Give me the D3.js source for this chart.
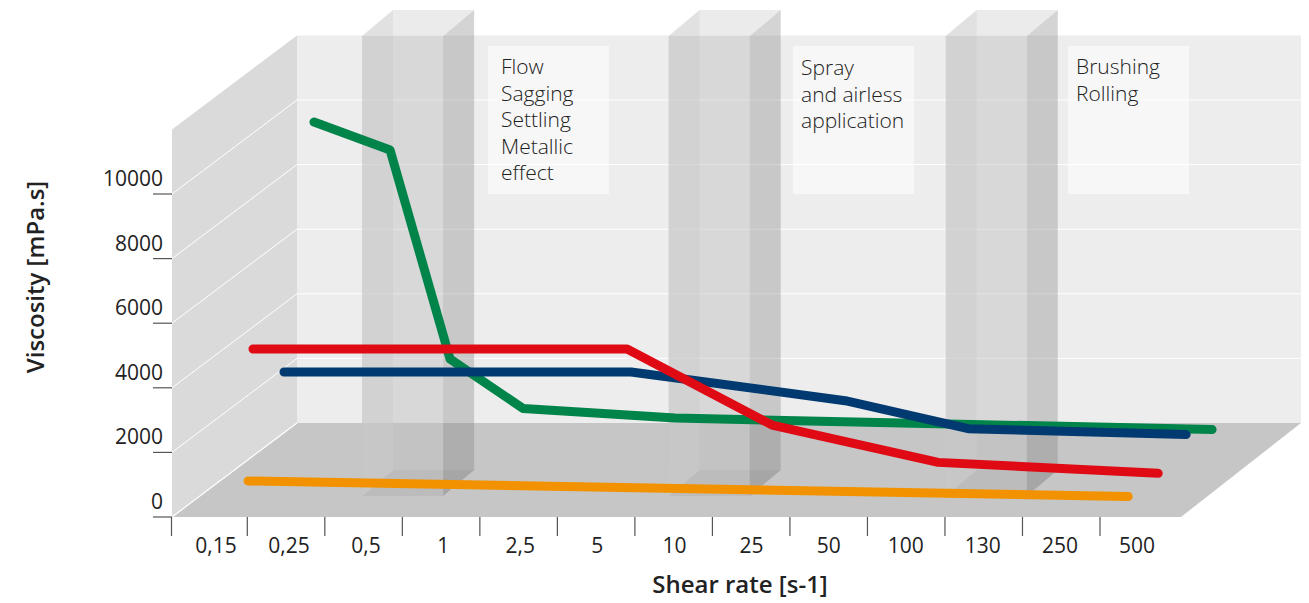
<!DOCTYPE html>
<html><head><meta charset="utf-8">
<script src="https://cdn.jsdelivr.net/npm/d3@7"></script>
<style>html,body{margin:0;padding:0;background:#fff}svg{display:block}text{font-family:"Open Sans",sans-serif}</style>
</head><body><svg id="c" width="1309" height="603"></svg>
<script>
const categories = ["0,15","0,25","0,5","1","2,5","5","10","25","50","100","130","250","500"];
const valueTicks = [0,2000,4000,6000,8000,10000];
const gridValues = [2000,4000,6000,8000,10000];

const greenPos = [0.541,1.521,2.294,3.235,5.193,12.113];
const greenVal = [9901,9034,2563,1030,735,380];
const bluePos  = [0.541,5.013,7.771,9.356,12.165];
const blueVal  = [2861,2861,1970,1105,925];
const redPos   = [0.528,5.348,7.216,9.356,12.191];
const redVal   = [4269,4269,1916,760,420];
const orangePos= [0.851,12.191];
const orangeVal= [882,402];

const zoneStart = [2.09,6.04,9.61];
const zoneNotes = [["Flow","Sagging","Settling","Metallic","effect"],["Spray","and airless","application"],["Brushing","Rolling"]];

const W0=172, Y0=517;
const x = d3.scaleLinear().domain([0,13]).range([W0,1181]);
const y = d3.scaleLinear().domain([0,12000]).range([Y0,129.4]);
const xTick = d3.scaleLinear().domain([0,1,12]).range([171.5,247.3,1100]);
const xLabel = d3.scaleLinear().domain([0,1,12]).range([216,289,1137]);
const DX=125, DY=94;
const P=(t,v,z=0)=>[x(t)+DX*z, y(v)-DY*z];
const line=d3.line();
const svg=d3.select("#c");
const poly=(pts,fill,g=svg)=>g.append("path").attr("d",line(pts)+"Z").attr("fill",fill);

// walls and floor
const backR = 1301;
const maxVal=12000;
poly([[P(0,0,1)[0],P(0,maxVal,1)[1]],[backR,P(0,maxVal,1)[1]],[backR,P(0,0,1)[1]],P(0,0,1)],"#ededed");
poly([P(0,0),P(0,maxVal),P(0,maxVal,1),P(0,0,1)],"#dadada");
poly([P(0,0),P(0,0,1),[backR,P(0,0,1)[1]],P(13,0)],"#c6c6c6");
gridValues.forEach(v=>{
  svg.append("path").attr("d",line([P(0,v),P(0,v,1),[backR,P(0,v,1)[1]]])).attr("fill","none").attr("stroke","#fff").attr("stroke-width",1);
});
svg.append("path").attr("d",line([P(0,0),P(0,0,1)])).attr("fill","none").attr("stroke","#fff").attr("stroke-width",1.2);

// application zones (translucent boxes)
const zoneWidth=1.044, zoneZ=0.223, zoneTop=14240, bx=31, by=26;
zoneStart.forEach(s=>{
  const a=P(s,0,zoneZ), b=P(s+zoneWidth,0,zoneZ);
  const at=P(s,zoneTop,zoneZ), bt=P(s+zoneWidth,zoneTop,zoneZ);
  const o=p=>[p[0]+bx,p[1]-by];
  poly([o(at),o(bt),o(b),o(a)],"rgba(195,195,195,0.26)");              // back
  poly([a,o(a),o(b),b],"rgba(120,120,120,0.14)");                       // footprint
  poly([at,o(at),o(a),a],"rgba(204,204,204,0.62)");                     // left
  poly([bt,o(bt),o(b),b],"rgba(0,0,0,0.11)");                           // right
  poly([at,o(at),o(bt),bt],"rgba(230,230,230,0.35)");                   // top
  poly([at,bt,b,a],"rgba(195,195,195,0.26)");                           // front
});

// note boxes
const noteX=[488,793,1068], noteY=[46,46,46], noteBaseline=[74,75,74];
zoneNotes.forEach((lines,i)=>{
  svg.append("rect").attr("x",noteX[i]).attr("y",noteY[i]).attr("width",121).attr("height",148).attr("fill","rgba(255,255,255,0.55)");
  svg.append("text").attr("font-size",21).attr("font-weight",300).attr("fill","#222")
    .selectAll("tspan").data(lines).join("tspan")
    .attr("x",noteX[i]+(i===0?13:8)).attr("y",(d,j)=>noteBaseline[i]+j*26.5).text(d=>d);
});

// series
const series=[
  {pos:greenPos,val:greenVal,z:0.8,color:"#00844a"},
  {pos:bluePos,val:blueVal,z:0.56,color:"#003a70"},
  {pos:redPos,val:redVal,z:0.32,color:"#e00a14"},
  {pos:orangePos,val:orangeVal,z:0.08,color:"#f39200"}
];
series.forEach(s=>{
  svg.append("path").attr("d",line(s.pos.map((t,i)=>P(t,s.val[i],s.z))))
    .attr("fill","none").attr("stroke",s.color).attr("stroke-width",9)
    .attr("stroke-linecap","round").attr("stroke-linejoin","round");
});

// axes
const tick="#555";
valueTicks.forEach(v=>{
  svg.append("line").attr("x1",153).attr("x2",172).attr("y1",y(v)).attr("y2",y(v)).attr("stroke",tick).attr("stroke-width",1.2);
  svg.append("text").attr("x",163).attr("y",y(v)-8).attr("text-anchor","end").attr("font-size",21).attr("fill","#222").text(v);
});
categories.forEach((c,i)=>{
  svg.append("line").attr("x1",xTick(i)).attr("x2",xTick(i)).attr("y1",Y0).attr("y2",536).attr("stroke",tick).attr("stroke-width",1.2);
  svg.append("text").attr("x",xLabel(i)).attr("y",553).attr("text-anchor","middle").attr("font-size",21).attr("fill","#222").text(c);
});
svg.append("text").attr("x",740).attr("y",593).attr("text-anchor","middle").attr("font-size",24).attr("font-weight",600).attr("fill","#222").text("Shear rate [s-1]");
svg.append("text").attr("transform","translate(44,277) rotate(-90)").attr("text-anchor","middle").attr("font-size",24).attr("font-weight",600).attr("fill","#222").text("Viscosity [mPa.s]");
</script></body></html>
